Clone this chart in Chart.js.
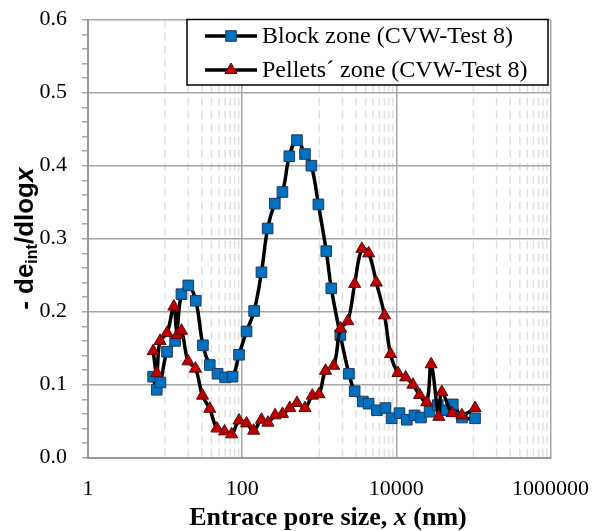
<!DOCTYPE html>
<html>
<head>
<meta charset="utf-8">
<script src="https://cdn.jsdelivr.net/npm/chart.js@4.4.1/dist/chart.umd.min.js"></script>
<style>
  html, body { margin: 0; padding: 0; background: #fff; }
  #wrap { width: 606px; height: 531px; }
</style>
</head>
<body>
<div id="wrap"><canvas id="chart" width="606" height="531"></canvas></div>
<script>
const seriesNames = ['Block zone (CVW-Test 8)', 'Pellets\u00B4 zone (CVW-Test 8)'];

// entrance pore size (nm) and -de_int/dlogx
const blockSize = [7.0, 7.8, 8.7, 10.6, 13.5, 16.3, 20, 25, 31, 38, 48, 60, 75, 91, 114,
  143, 178, 214, 265, 333, 409, 514, 653, 791, 975, 1233, 1434, 1876, 2426, 2880,
  3680, 4370, 5600, 7240, 8680, 10980, 13680, 17200, 20900, 27000, 34500, 42000, 54000, 71000, 105000];
const blockValues = [0.111, 0.093, 0.103, 0.145, 0.160, 0.224, 0.236, 0.215, 0.154, 0.127, 0.115, 0.110, 0.111, 0.141, 0.173,
  0.201, 0.254, 0.314, 0.348, 0.364, 0.413, 0.435, 0.416, 0.400, 0.347, 0.283, 0.232, 0.168, 0.115, 0.091,
  0.077, 0.074, 0.065, 0.068, 0.054, 0.061, 0.052, 0.058, 0.055, 0.063, 0.072, 0.065, 0.073, 0.055, 0.054];

const pelletSize = [7.0, 7.8, 8.6, 10.6, 13, 14.4, 16.3, 19.9, 24.8, 30.6, 38, 47, 59, 73, 91,
  114, 141, 178, 216, 267, 333, 414, 514, 653, 813, 991, 1207, 1540, 1892, 2346,
  2880, 3573, 4370, 5500, 7030, 8410, 10500, 13200, 16400, 20000, 24800, 28300, 35600, 38900, 53000,
  71000, 105000];
const pelletValues = [0.146, 0.116, 0.160, 0.171, 0.207, 0.168, 0.174, 0.132, 0.122, 0.085, 0.067, 0.040, 0.036, 0.032, 0.051,
  0.047, 0.037, 0.052, 0.048, 0.058, 0.060, 0.068, 0.075, 0.068, 0.085, 0.087, 0.119, 0.126, 0.177, 0.187,
  0.238, 0.286, 0.280, 0.240, 0.195, 0.142, 0.116, 0.110, 0.100, 0.086, 0.076, 0.128, 0.056, 0.090, 0.061,
  0.058, 0.068];

const xTicks = [1, 100, 10000, 1000000];
const xMinorDecades = [10, 1000, 100000];   // dashed lines at k*decade, k = 1..9
const yMin = 0, yMax = 0.6, yMinorStep = 0.02;

const GRID = '#a6a6a6';
const SERIF = "'Liberation Serif'";
const SANS = "'Liberation Sans'";

const toPoints = (xs, ys) => xs.map((x, i) => ({ x, y: ys[i] }));
const isMajorY = v => Math.abs(v * 10 - Math.round(v * 10)) < 1e-6;

// dashed minor gridlines behind everything
const minorGrid = {
  id: 'minorGrid',
  beforeDraw(chart) {
    const { ctx, chartArea: a, scales: { x } } = chart;
    ctx.save();
    ctx.strokeStyle = '#e0e0e0';
    ctx.lineWidth = 1.5;
    ctx.setLineDash([8, 5]);
    xMinorDecades.forEach(d => {
      for (let k = 1; k <= 9; k++) {
        const px = x.getPixelForValue(k * d);
        ctx.beginPath();
        ctx.moveTo(px, a.top);
        ctx.lineTo(px, a.bottom);
        ctx.stroke();
      }
    });
    ctx.restore();
  }
};

function drawRuns(ctx, runs, x, y) {
  let total = 0;
  runs.forEach(r => { ctx.font = r.font; total += ctx.measureText(r.text).width; });
  let cx = x - total / 2;
  runs.forEach(r => {
    ctx.font = r.font;
    ctx.fillText(r.text, cx, y + (r.dy || 0));
    cx += ctx.measureText(r.text).width;
  });
}

// legend box and axis titles (mixed fonts, subscript)
const labels = {
  id: 'labels',
  afterDraw(chart) {
    const { ctx, chartArea: a } = chart;
    ctx.save();
    ctx.fillStyle = '#000';
    ctx.textAlign = 'left';
    ctx.textBaseline = 'alphabetic';

    // y title
    ctx.save();
    ctx.translate(33, (a.top + a.bottom) / 2);
    ctx.rotate(-Math.PI / 2);
    drawRuns(ctx, [
      { text: '- de', font: `bold 26px ${SANS}` },
      { text: 'int', font: `bold 16px ${SANS}`, dy: 4 },
      { text: '/dlog', font: `bold 26px ${SANS}` },
      { text: 'x', font: `italic bold 26px ${SANS}` }
    ], 0, 0);
    ctx.restore();

    // x title
    drawRuns(ctx, [
      { text: 'Entrace pore size, ', font: `bold 26px ${SERIF}` },
      { text: 'x', font: `italic bold 26px ${SERIF}` },
      { text: ' (nm)', font: `bold 26px ${SERIF}` }
    ], 328, 525);

    // legend
    const box = { l: 187, t: 19.5, r: 548, b: 85 };
    ctx.fillStyle = '#fff';
    ctx.fillRect(box.l, box.t, box.r - box.l, box.b - box.t);
    ctx.strokeStyle = '#000';
    ctx.lineWidth = 1.5;
    ctx.strokeRect(box.l, box.t, box.r - box.l, box.b - box.t);
    const rows = [36, 70];
    chart.data.datasets.forEach((ds, i) => {
      const y = rows[i];
      ctx.strokeStyle = '#000';
      ctx.lineWidth = 3.5;
      ctx.beginPath();
      ctx.moveTo(205, y);
      ctx.lineTo(257, y);
      ctx.stroke();
      ctx.fillStyle = ds.pointBackgroundColor;
      ctx.strokeStyle = ds.pointBorderColor;
      ctx.lineWidth = 1;
      Chart.helpers.drawPoint(ctx, { pointStyle: ds.pointStyle, radius: ds.pointRadius, rotation: 0, borderWidth: 1 }, 231, y);
      ctx.fillStyle = '#000';
      ctx.font = `24px ${SERIF}`;
      ctx.textBaseline = 'middle';
      ctx.fillText(ds.label, 262, y + 1);
    });
    ctx.restore();
  }
};

new Chart(document.getElementById('chart'), {
  type: 'line',
  data: {
    datasets: [
      {
        label: seriesNames[0],
        data: toPoints(blockSize, blockValues),
        borderColor: '#000',
        borderWidth: 3.5,
        tension: 0.4,
        pointStyle: 'rect',
        pointRadius: 7.5,
        pointBackgroundColor: '#0070C0',
        pointBorderColor: '#1d3a5c',
        pointBorderWidth: 1,
        order: 1
      },
      {
        label: seriesNames[1],
        data: toPoints(pelletSize, pelletValues),
        borderColor: '#000',
        borderWidth: 3.5,
        tension: 0.4,
        pointStyle: 'triangle',
        pointRadius: 7,
        pointBackgroundColor: '#C00000',
        pointBorderColor: '#5a0a0a',
        pointBorderWidth: 1,
        order: 0
      }
    ]
  },
  options: {
    responsive: false,
    animation: false,
    devicePixelRatio: 1,
    layout: { padding: { top: 19.7, right: 55.5, left: 0, bottom: 0 } },
    plugins: { legend: { display: false }, tooltip: { enabled: false } },
    scales: {
      x: {
        type: 'logarithmic',
        min: 1,
        max: 1000000,
        afterBuildTicks: s => { s.ticks = xTicks.map(v => ({ value: v })); },
        afterFit: s => { s.height = 73.3; s.paddingLeft = 0; s.paddingRight = 0; },
        ticks: {
          autoSkip: false,
          maxRotation: 0,
          padding: 18,
          color: '#000',
          font: { family: SERIF, size: 22 },
          callback: v => String(v)
        },
        grid: { color: GRID, lineWidth: 1.5, drawTicks: false },
        border: { color: '#999', width: 2 }
      },
      y: {
        min: yMin,
        max: yMax,
        afterFit: s => { s.width = 88; s.paddingTop = 0; s.paddingBottom = 0; },
        ticks: {
          stepSize: yMinorStep,
          autoSkip: false,
          padding: 15,
          color: '#000',
          font: { family: SERIF, size: 22 },
          callback: v => isMajorY(v) ? v.toFixed(1) : ''
        },
        grid: {
          color: c => isMajorY(c.tick.value) ? GRID : 'rgba(0,0,0,0)',
          lineWidth: 1.5,
          tickColor: GRID,
          tickLength: 6
        },
        border: { color: '#999', width: 2 }
      }
    }
  },
  plugins: [minorGrid, labels]
});
</script>
</body>
</html>
